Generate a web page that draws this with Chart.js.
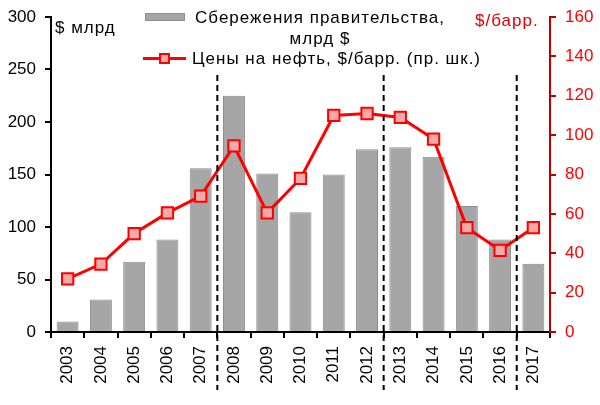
<!DOCTYPE html>
<html lang="ru">
<head>
    <meta charset="UTF-8" />
    <title>Сбережения правительства и цены на нефть</title>
    <script src="https://cdn.jsdelivr.net/npm/chart.js"></script>
    <style>
        body { margin: 0; background: #fff; }
        .wrap { position: relative; width: 600px; height: 405px; font-family: "Liberation Sans", Arial, sans-serif; }
        canvas { position: absolute; left: 0; top: 0; }
        .lbl { position: absolute; font-size: 17px; line-height: 21px; letter-spacing: 1px; color: #000; white-space: nowrap; }
        .red { color: #e00000; }
        .swatch-bar { position: absolute; left: 145px; top: 13px; width: 40px; height: 8px; background: #a6a6a6; border: 1px solid #8c8c8c; box-sizing: border-box; }
        .swatch-line { position: absolute; left: 143px; top: 57px; width: 43px; height: 3px; background: #ff0000; }
        .swatch-pt { position: absolute; left: 159px; top: 53px; width: 11px; height: 11px; background: #f5aaaa; border: 2px solid #ff0000; box-sizing: border-box; }
    </style>
</head>
<body>
<div class="wrap">
    <canvas id="chart" width="600" height="405"></canvas>
    <div class="lbl" style="left:55px; top:17px;">$ млрд</div>
    <div class="lbl red" style="left:475px; top:10px;">$/барр.</div>
    <div class="swatch-bar"></div>
    <div class="lbl" style="left:190px; top:7px; width:260px; text-align:center;">Сбережения правительства,<br>млрд $</div>
    <div class="swatch-line"></div>
    <div class="swatch-pt"></div>
    <div class="lbl" style="left:192px; top:48px;">Цены на нефть, $/барр. (пр. шк.)</div>
</div>

<script>
    // data
    const years = ['2003', '2004', '2005', '2006', '2007', '2008', '2009', '2010',
                   '2011', '2012', '2013', '2014', '2015', '2016', '2017'];
    const savings = [10, 31, 67, 88, 156, 225, 151, 114, 150, 174, 176, 167, 120, 88, 65];
    const oilPrice = [27, 34.5, 50, 60.5, 69, 94.5, 60.5, 78, 110, 111, 109, 98, 53, 41.5, 53];
    const leftTicks = [0, 50, 100, 150, 200, 250, 300];
    const rightTicks = [0, 20, 40, 60, 80, 100, 120, 140, 160];
    // dashed separators drawn after these years
    const dividersAfter = ['2007', '2012', '2016'];

    const tickFont = { family: 'Liberation Sans', size: 17 };

    // dashed vertical lines between categories
    const dividerPlugin = {
        id: 'dividers',
        afterDatasetsDraw(chart) {
            const x = chart.scales.x;
            const ctx = chart.ctx;
            ctx.save();
            ctx.strokeStyle = '#000';
            ctx.lineWidth = 2;
            ctx.setLineDash([6, 4]);
            dividersAfter.forEach(y => {
                const i = years.indexOf(y);
                const px = (x.getPixelForValue(i) + x.getPixelForValue(i + 1)) / 2;
                ctx.beginPath();
                ctx.moveTo(px, chart.chartArea.top + 58);
                ctx.lineTo(px, chart.chartArea.bottom + 58);
                ctx.stroke();
            });
            ctx.restore();
        }
    };

    function noPad(scale) {
        scale.paddingTop = 0;
        scale.paddingBottom = 0;
        scale.paddingLeft = 0;
        scale.paddingRight = 0;
    }

    new Chart(document.getElementById('chart'), {
        data: {
            labels: years,
            datasets: [{
                type: 'line',
                label: 'Цены на нефть, $/барр. (пр. шк.)',
                data: oilPrice,
                yAxisID: 'y2',
                borderColor: '#ff0000',
                borderWidth: 3,
                pointStyle: 'rect',
                pointRadius: 8,
                pointBorderWidth: 2,
                pointBackgroundColor: '#f5aaaa',
                pointBorderColor: '#ff0000',
                tension: 0,
                order: 0
            }, {
                type: 'bar',
                label: 'Сбережения правительства, млрд $',
                data: savings,
                yAxisID: 'y',
                backgroundColor: '#a6a6a6',
                borderColor: '#8c8c8c',
                borderWidth: 1,
                barPercentage: 0.66,
                categoryPercentage: 1,
                order: 1
            }]
        },
        options: {
            responsive: false,
            animation: false,
            layout: { padding: { top: 17, left: 0, right: 0, bottom: 0 } },
            plugins: { legend: { display: false }, tooltip: { enabled: false } },
            scales: {
                x: {
                    grid: { display: true, drawOnChartArea: false, color: '#000', lineWidth: 2, tickLength: 6, offset: true },
                    border: { color: '#000', width: 2 },
                    ticks: { color: '#000', font: tickFont, maxRotation: 90, minRotation: 90, padding: 8, autoSkip: false },
                    afterFit(scale) { noPad(scale); scale.height = 73; }
                },
                y: {
                    position: 'left',
                    min: 0, max: 300,
                    afterBuildTicks(scale) { scale.ticks = leftTicks.map(v => ({ value: v })); },
                    grid: { display: true, drawOnChartArea: false, color: '#000', lineWidth: 2, tickLength: 6 },
                    border: { color: '#000', width: 2 },
                    ticks: { color: '#000', font: tickFont, padding: 9 },
                    afterFit(scale) { noPad(scale); scale.width = 51; }
                },
                y2: {
                    position: 'right',
                    min: 0, max: 160,
                    afterBuildTicks(scale) { scale.ticks = rightTicks.map(v => ({ value: v })); },
                    grid: { display: true, drawOnChartArea: false, color: '#c00000', lineWidth: 2, tickLength: 6 },
                    border: { color: '#c00000', width: 2 },
                    ticks: { color: '#ff0000', font: tickFont, padding: 9 },
                    afterFit(scale) { noPad(scale); scale.width = 50; }
                }
            }
        },
        plugins: [dividerPlugin]
    });
</script>
</body>
</html>
